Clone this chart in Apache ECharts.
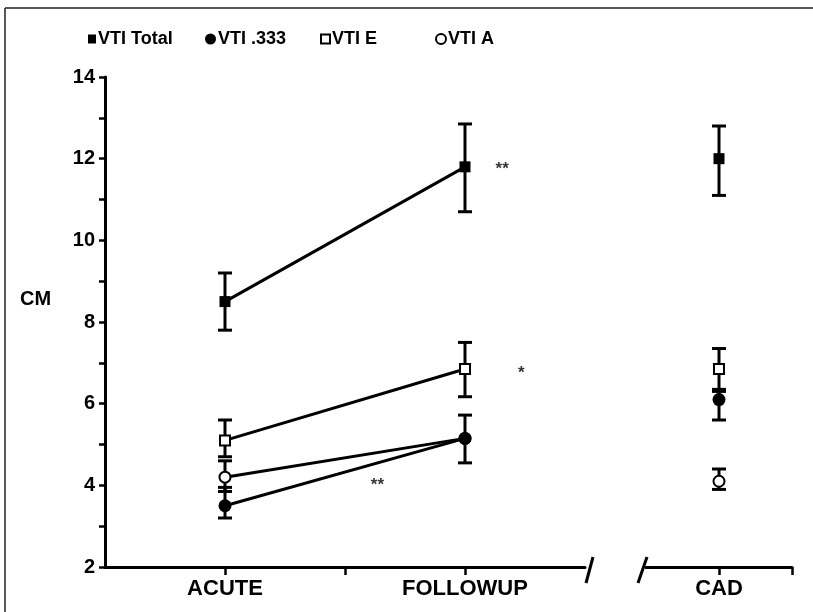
<!DOCTYPE html>
<html>
<head>
<meta charset="utf-8">
<script src="https://cdn.jsdelivr.net/npm/echarts@6/dist/echarts.min.js"></script>
<style>html,body{margin:0;padding:0;background:#fff}#c{width:813px;height:612px}</style>
</head>
<body>
<div id="c"></div>
<script>
// ---- data ----
const seriesNames = ['VTI Total', 'VTI .333', 'VTI E', 'VTI A'];
const xTickLabels = {1: 'ACUTE', 3: 'FOLLOWUP'};
const cadLabel = 'CAD';
const acuteX = 1, followX = 3, cadX = 1;
const acuteMean  = [8.5, 3.5, 5.1, 4.2];
const followMean = [11.8, 5.15, 6.85, 5.15];
const cadMean    = [12.0, 6.1, 6.85, 4.1];
const acuteLow   = [7.8, 3.2, 4.7, 3.85];
const acuteHigh  = [9.2, 3.95, 5.6, 4.6];
const followLow  = [10.7, 4.55, 6.17, null];
const followHigh = [12.85, 5.72, 7.5, null];
const cadLow     = [11.1, 5.6, 6.35, 3.9];
const cadHigh    = [12.8, 6.3, 7.35, 4.4];
const yTicks = [2, 4, 6, 8, 10, 12, 14];
const annotations = [[3.31, 11.75, '**'], [3.47, 6.75, '*'], [2.27, 4.0, '**']];

// ---- styles ----
const FONT = '"Liberation Sans", Arial, sans-serif';
const symbols = ['rect', 'circle', 'rect', 'circle'];
const symSizes = [11, 13, 10, 11];
const filled = [true, true, false, false];
const zOrder = [5, 6, 4, 3];
const legendLeft = [83, 200, 315, 430];
const legendIconSize = [[8, 9], [11, 11], [9, 9], [10, 10]];
function itemStyleFor(i) {
  return filled[i] ? {color: '#000', borderColor: '#000', borderWidth: 0, opacity: 1}
                   : {color: '#fff', borderColor: '#000', borderWidth: 2, opacity: 1};
}

const chart = echarts.init(document.getElementById('c'), null, {renderer: 'canvas'});

function errRender(params, api) {
  const x = api.value(0), lo = api.value(1), hi = api.value(2);
  const p1 = api.coord([x, hi]), p2 = api.coord([x, lo]);
  const hw = 7;
  const st = {stroke: '#000', lineWidth: 3};
  return {type: 'group', children: [
    {type: 'line', shape: {x1: p1[0], y1: p1[1], x2: p2[0], y2: p2[1]}, style: st},
    {type: 'line', shape: {x1: p1[0] - hw, y1: p1[1], x2: p1[0] + hw, y2: p1[1]}, style: st},
    {type: 'line', shape: {x1: p2[0] - hw, y1: p2[1], x2: p2[0] + hw, y2: p2[1]}, style: st}
  ]};
}

const series = [];
const err1 = [];
const err2 = [];
seriesNames.forEach((n, i) => {
  if (acuteLow[i] != null) err1.push([acuteX, acuteLow[i], acuteHigh[i]]);
  if (followLow[i] != null) err1.push([followX, followLow[i], followHigh[i]]);
  if (cadLow[i] != null) err2.push([cadX, cadLow[i], cadHigh[i]]);
});
series.push({type: 'custom', xAxisIndex: 0, yAxisIndex: 0, renderItem: errRender,
  encode: {x: 0, y: [1, 2]}, data: err1, z: 2, silent: true});
series.push({type: 'custom', xAxisIndex: 1, yAxisIndex: 1, renderItem: errRender,
  encode: {x: 0, y: [1, 2]}, data: err2, z: 2, silent: true});

seriesNames.forEach((n, i) => {
  series.push({
    name: n, type: 'line', xAxisIndex: 0, yAxisIndex: 0, z: zOrder[i],
    data: [[acuteX, acuteMean[i]], [followX, followMean[i]]],
    symbol: symbols[i], symbolSize: symSizes[i], showAllSymbol: true,
    lineStyle: {color: '#000', width: 3},
    itemStyle: itemStyleFor(i), emphasis: {disabled: true}
  });
  series.push({
    name: n, type: 'scatter', xAxisIndex: 1, yAxisIndex: 1, z: zOrder[i],
    data: [[cadX, cadMean[i]]],
    symbol: symbols[i], symbolSize: symSizes[i],
    itemStyle: itemStyleFor(i), emphasis: {disabled: true}
  });
});

series.push({
  type: 'scatter', xAxisIndex: 0, yAxisIndex: 0, z: 7, symbolSize: 0, silent: true,
  data: annotations.map(a => ({value: [a[0], a[1]], label: {formatter: a[2]}})),
  label: {show: true, position: 'inside', color: '#000', fontFamily: FONT, fontWeight: 'bold', fontSize: 17}
});

const axisLineStyle = {color: '#000', width: 3};

const option = {
  animation: false,
  backgroundColor: '#fff',
  legend: seriesNames.map((n, i) => ({
    left: legendLeft[i], top: 25, itemWidth: legendIconSize[i][0], itemHeight: legendIconSize[i][1],
    selectedMode: false,
    textStyle: {color: '#000', fontFamily: FONT, fontWeight: 'bold', fontSize: 18, padding: [0, 0, 0, -3]},
    data: [{name: n, icon: symbols[i] === 'rect' ? 'rect' : 'circle', itemStyle: itemStyleFor(i)}]
  })),
  grid: [
    {left: 105, top: 77, width: 480, bottom: 45},
    {left: 646, top: 77, width: 146, bottom: 45}
  ],
  xAxis: [
    {type: 'value', gridIndex: 0, min: 0, max: 4, interval: 1,
     axisLine: {show: true, onZero: false, lineStyle: axisLineStyle},
     axisTick: {show: true, customValues: [1, 2, 3], length: 8, lineStyle: {color: '#000', width: 2.5}},
     axisLabel: {customValues: [1, 3], formatter: v => xTickLabels[v] || '', color: '#000',
       fontFamily: FONT, fontWeight: 'bold', fontSize: 22, margin: 11},
     splitLine: {show: false}},
    {type: 'value', gridIndex: 1, min: 0, max: 2, interval: 1,
     axisLine: {show: true, onZero: false, lineStyle: axisLineStyle},
     axisTick: {show: true, customValues: [1, 2], length: 8, lineStyle: {color: '#000', width: 2.5}},
     axisLabel: {customValues: [1], formatter: v => (v === cadX ? cadLabel : ''), color: '#000',
       fontFamily: FONT, fontWeight: 'bold', fontSize: 22, margin: 11},
     splitLine: {show: false}}
  ],
  yAxis: [
    {type: 'value', gridIndex: 0, min: 2, max: 14, interval: 1,
     axisLine: {show: true, lineStyle: axisLineStyle},
     axisTick: {show: true, length: 6, lineStyle: {color: '#000', width: 2.5}},
     axisLabel: {formatter: v => (yTicks.indexOf(v) >= 0 ? String(v) : ''), color: '#000',
       fontFamily: FONT, fontWeight: 'bold', fontSize: 20, margin: 10},
     splitLine: {show: false}},
    {type: 'value', gridIndex: 1, min: 2, max: 14, interval: 1, show: false}
  ],
  graphic: [
    {type: 'text', left: 20, top: 289, style: {text: 'CM', fill: '#000', font: 'bold 20px ' + FONT}},
    {type: 'line', shape: {x1: 5, y1: 8, x2: 813, y2: 8}, style: {stroke: '#222', lineWidth: 1.5}},
    {type: 'line', shape: {x1: 5, y1: 8, x2: 5, y2: 612}, style: {stroke: '#222', lineWidth: 1.5}},
    {type: 'line', shape: {x1: 586, y1: 583, x2: 593, y2: 557}, style: {stroke: '#000', lineWidth: 3}},
    {type: 'line', shape: {x1: 638, y1: 583, x2: 647, y2: 557}, style: {stroke: '#000', lineWidth: 3}}
  ],
  series: series
};
chart.setOption(option);
</script>
</body>
</html>
